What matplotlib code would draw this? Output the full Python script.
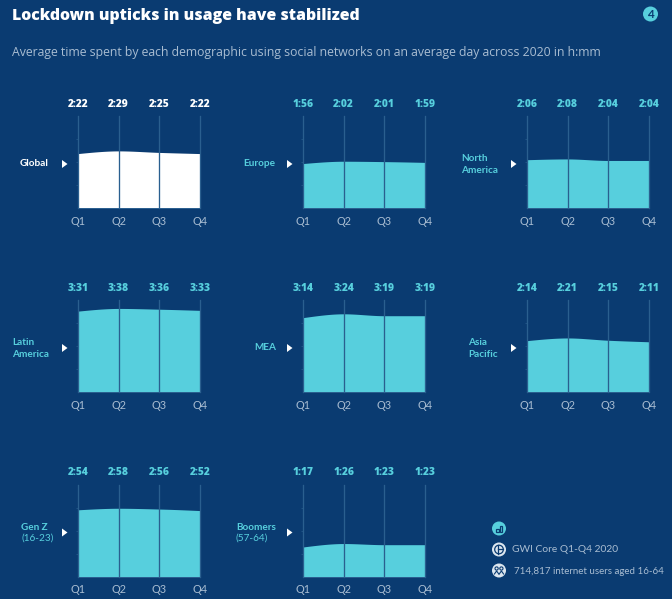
import matplotlib
matplotlib.use("Agg")
import matplotlib.pyplot as plt
import numpy as np
from matplotlib.patches import Circle, Polygon, Rectangle

W, H = 672, 599
BG = "#0A3B71"
CYAN = "#57CFDD"
MUTED = "#A9BDD2"
plt.rcParams["font.family"] = ["Lato", "DejaVu Sans"]
WIDE = ["Open Sans", "DejaVu Sans"]

quarters = ["Q1", "Q2", "Q3", "Q4"]
global_v = ["2:22", "2:29", "2:25", "2:22"]
europe = ["1:56", "2:02", "2:01", "1:59"]
north_america = ["2:06", "2:08", "2:04", "2:04"]
latin_america = ["3:31", "3:38", "3:36", "3:33"]
mea = ["3:14", "3:24", "3:19", "3:19"]
asia_pacific = ["2:14", "2:21", "2:15", "2:11"]
gen_z = ["2:54", "2:58", "2:56", "2:52"]
boomers = ["1:17", "1:26", "1:23", "1:23"]

names = [("Global", None), ("Europe", None), ("North\nAmerica", None),
         ("Latin\nAmerica", None), ("MEA", None), ("Asia\nPacific", None),
         ("Gen Z", "(16-23)"), ("Boomers", "(57-64)")]
series = [global_v, europe, north_america, latin_america, mea, asia_pacific, gen_z, boomers]
col_left = [78, 303, 527]
row_base = [208, 392, 576.5]
arrow_x = [62, 287, 511]
PW, PH = 122, 92
YMAX = 240
LINE = "#2A5F8F"


def minutes(s):
    h, m = s.split(":")
    return int(h) * 60 + int(m)


def monotone(y, n=40):
    """Monotone cubic between equally spaced values."""
    y = np.asarray(y, float)
    d = np.diff(y)
    m = np.zeros_like(y)
    for i in range(1, len(y) - 1):
        if d[i - 1] * d[i] > 0:
            m[i] = 2 * d[i - 1] * d[i] / (d[i - 1] + d[i])
    m[0] = 1.5 * d[0] - 0.5 * m[1]
    m[-1] = 1.5 * d[-1] - 0.5 * m[-2]
    xs, ys = [], []
    for i in range(len(y) - 1):
        t = np.linspace(0, 1, n)
        h00 = 2*t**3 - 3*t**2 + 1
        h10 = t**3 - 2*t**2 + t
        h01 = -2*t**3 + 3*t**2
        h11 = t**3 - t**2
        xs.append(i + t)
        ys.append(h00*y[i] + h10*m[i] + h01*y[i+1] + h11*m[i+1])
    return np.concatenate(xs), np.concatenate(ys)


fig = plt.figure(figsize=(W / 100, H / 100), dpi=100, facecolor=BG)
bgax = fig.add_axes([0, 0, 1, 1])
bgax.set_xlim(0, W)
bgax.set_ylim(H, 0)
bgax.axis("off")
bgax.set_aspect("equal")

bgax.text(12, 16.5, "Lockdown upticks in usage have stabilized", color="white",
          fontsize=11.4, fontweight="extra bold", family=WIDE, va="center", ha="left")
bgax.text(12, 52.5, "Average time spent by each demographic using social networks on an average day across 2020 in h:mm",
          color=MUTED, fontsize=8.83, family=WIDE, va="center", ha="left")
bgax.add_patch(Circle((650.5, 14), 7.5, color=CYAN, lw=0))
bgax.text(650.5, 14, "4", color=BG, fontsize=8.5, ha="center", va="center", fontweight="bold")

for idx, (vals, (name, sub)) in enumerate(zip(series, names)):
    r, c = idx // 3, idx % 3
    left, base = col_left[c], row_base[r]
    main = "white" if idx == 0 else CYAN
    ax = fig.add_axes([left / W, 1 - base / H, PW / W, PH / H], facecolor="none")
    y = [minutes(v) for v in vals]
    xs, ys = monotone(y)
    ax.fill_between(xs, 0, ys, color=main, lw=0, zorder=1)
    ax.set_xlim(0, 3)
    ax.set_ylim(0, YMAX)
    for spine in ax.spines.values():
        spine.set_visible(False)
    ax.spines["bottom"].set_visible(True)
    ax.spines["bottom"].set_color(LINE)
    ax.spines["bottom"].set_linewidth(0.7)
    ax.set_xticks(range(4))
    ax.set_xticklabels(quarters, color=MUTED, fontsize=7.8)
    ax.tick_params(axis="x", length=0, pad=5.5)
    ax.set_yticks([60, 120, 180])
    ax.set_yticklabels([])
    ax.tick_params(axis="y", length=1.2, width=0.5, color=LINE, pad=0)
    for i in range(4):
        ax.axvline(i, color=LINE, lw=0.95, zorder=2, clip_on=False)
        ax.text(i, YMAX + 31, vals[i], color=main, fontsize=7.4, fontweight="extra bold", family=WIDE,
                ha="center", va="center", clip_on=False)
    mid = base - 44
    if name in ("Global", "Europe", "MEA"):
        tx = {"Global": 20, "Europe": 243, "MEA": 254}[name]
        bgax.text(tx, mid, name, color=main, fontsize=7.2, fontweight="bold", va="center", ha="left")
    elif sub:
        tx = {"Gen Z": 21, "Boomers": 236}[name]
        bgax.text(tx, mid - 5.5, name, color=main, fontsize=7.2, fontweight="bold", va="center", ha="left")
        bgax.text(tx, mid + 5.5, sub, color=main, fontsize=7.2, va="center", ha="left")
    else:
        tx = {0: 12, 1: 0, 2: 461}[c] if name != "Asia\nPacific" else 468
        bgax.text(tx, mid + 0.5, name, color=main, fontsize=7.2, fontweight="bold", va="center",
                  ha="left", linespacing=1.4)
    ax_x = arrow_x[c]
    ay = base - 44
    bgax.add_patch(Polygon([[ax_x, ay - 4], [ax_x, ay + 4], [ax_x + 5.5, ay]], color="white", lw=0))

# footer icons
bgax.add_patch(Circle((499, 528.5), 7, color=CYAN, lw=0))
for dx, h_ in [(-2.6, 3), (0.8, 6)]:
    bgax.add_patch(Rectangle((499 + dx, 532 - h_), 2.2, h_, fc="none", ec=BG, lw=0.9))
bgax.add_patch(Circle((499, 549.5), 7, color="#DCE6EF", lw=0))
bgax.add_patch(Circle((499, 549.5), 4.3, fc="none", ec=BG, lw=0.9))
bgax.plot([498, 498], [545, 554], color=BG, lw=0.9)
bgax.plot([498, 503], [549, 549], color=BG, lw=0.9)
bgax.add_patch(Circle((499, 570.5), 7, color="#DCE6EF", lw=0))
for dx in (-2.4, 2.4):
    bgax.add_patch(Circle((499 + dx, 568.5), 1.6, fc="none", ec=BG, lw=0.8))
    bgax.plot([499 + dx - 2.2, 499 + dx, 499 + dx + 2.2], [574, 571, 574], color=BG, lw=0.8)
bgax.text(512, 549.5, "GWI Core Q1-Q4 2020", color=MUTED, fontsize=7.4, va="center", ha="left")
bgax.text(514, 571, "714,817 internet users aged 16-64", color=MUTED, fontsize=7.0, va="center", ha="left")

fig.savefig("out.png", dpi=100, facecolor=BG)
